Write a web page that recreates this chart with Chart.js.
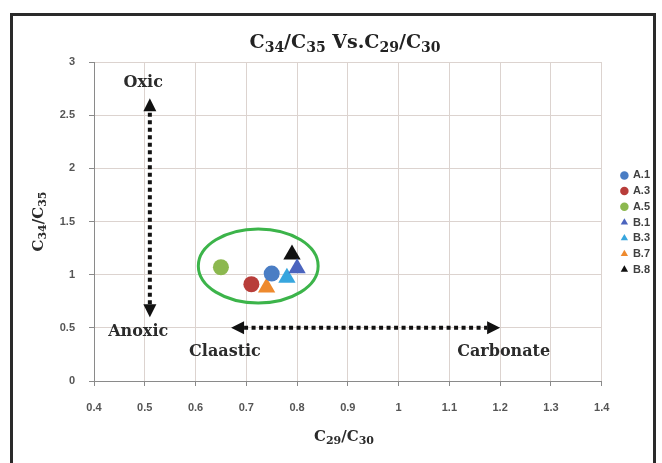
<!DOCTYPE html>
<html><head><meta charset="utf-8">
<script src="https://cdn.jsdelivr.net/npm/chart.js@4/dist/chart.umd.min.js"></script>
<style>html,body{margin:0;padding:0;background:#fff}canvas{display:block}</style>
</head><body>
<canvas id="c" width="662" height="463"></canvas>
<script>
// ---- data ----
const seriesNames = ['A.1', 'A.3', 'A.5', 'B.1', 'B.3', 'B.7', 'B.8'];
const xValues = [0.75, 0.71, 0.65, 0.80, 0.78, 0.74, 0.79];
const yValues = [1.01, 0.91, 1.07, 1.06, 0.97, 0.88, 1.19];
const xTicks = [0.4, 0.5, 0.6, 0.7, 0.8, 0.9, 1, 1.1, 1.2, 1.3, 1.4];
const yTicks = [0, 0.5, 1, 1.5, 2, 2.5, 3];
// annotation geometry (data units)
const oxicArrow = [[0.51, 0.60], [0.51, 2.66]];
const facesArrow = [[0.67, 0.5], [1.20, 0.5]];
const ellipseCenter = [0.7235, 1.082];
const ellipseRadii = [0.118, 0.348];
const annoLabels = [['Oxic', 0.497, 2.80], ['Anoxic', 0.487, 0.465], ['Claastic', 0.658, 0.275], ['Carbonate', 1.207, 0.275]];

// ---- styles ----
const colors = ['#4a7dc4', '#b83d3a', '#8cb84f', '#4b64be', '#38a6de', '#ee8a2e', '#111111'];
const shapes = ['circle', 'circle', 'circle', 'triangle', 'triangle', 'triangle', 'triangle'];
const SERIF = '"DejaVu Serif", serif';
const SANS = '"Liberation Sans", Arial, sans-serif';
const GRID = '#dcd3cf';
const AXIS = '#8a8a8a';

const datasets = seriesNames.map((n, i) => ({
  label: n,
  data: [{x: xValues[i], y: yValues[i]}],
  pointStyle: shapes[i],
  pointRadius: shapes[i] === 'circle' ? 8 : 10,
  pointHoverRadius: shapes[i] === 'circle' ? 8 : 10,
  backgroundColor: colors[i],
  borderColor: colors[i],
  borderWidth: 0
}));

function drawSub(ctx, parts, x, y, size, color, align) {
  const big = 'bold ' + size + 'px ' + SERIF;
  const small = 'bold ' + Math.round(size * 0.72) + 'px ' + SERIF;
  let w = 0;
  parts.forEach(p => { ctx.font = p[1] ? small : big; w += ctx.measureText(p[0]).width; });
  let cx = align === 'center' ? x - w / 2 : x;
  ctx.fillStyle = color;
  ctx.textBaseline = 'alphabetic';
  ctx.textAlign = 'left';
  parts.forEach(p => {
    ctx.font = p[1] ? small : big;
    ctx.fillText(p[0], cx, y + (p[1] ? size * 0.22 : 0));
    cx += ctx.measureText(p[0]).width;
  });
}

function arrowHead(ctx, tx, ty, dx, dy, len, half) {
  const nx = -dy, ny = dx;
  ctx.beginPath();
  ctx.moveTo(tx, ty);
  ctx.lineTo(tx - dx * len + nx * half, ty - dy * len + ny * half);
  ctx.lineTo(tx - dx * len - nx * half, ty - dy * len - ny * half);
  ctx.closePath();
  ctx.fill();
}

function dottedArrow(ctx, a, b) {
  const dx = b[0] - a[0], dy = b[1] - a[1];
  const L = Math.hypot(dx, dy); const ux = dx / L, uy = dy / L;
  const head = 13;
  ctx.save();
  ctx.strokeStyle = '#111'; ctx.fillStyle = '#111';
  ctx.lineWidth = 4; ctx.setLineDash([4, 3.5]);
  ctx.beginPath();
  ctx.moveTo(a[0] + ux * head, a[1] + uy * head);
  ctx.lineTo(b[0] - ux * head, b[1] - uy * head);
  ctx.stroke();
  ctx.setLineDash([]);
  arrowHead(ctx, b[0], b[1], ux, uy, head, 6.5);
  arrowHead(ctx, a[0], a[1], -ux, -uy, head, 6.5);
  ctx.restore();
}

// legend placement: extra gap left of the legend items, and shifted up to centre on the plot
const LEGEND_GAP = 15, LEGEND_EXTRA = 9, LEGEND_DY = -20;

const decor = {
  id: 'decor',
  afterInit(chart) {
    const L = chart.legend;
    if (!L) return;
    const fit = L.fit.bind(L);
    L.fit = function () { fit(); this.width += LEGEND_EXTRA; };
    const draw = L.draw.bind(L);
    L.draw = function () {
      const c = this.ctx; c.save(); c.translate(LEGEND_GAP, LEGEND_DY); draw(); c.restore();
    };
  },
  beforeDraw(chart) {
    const ctx = chart.ctx;
    ctx.save();
    ctx.fillStyle = '#fff';
    ctx.fillRect(0, 0, chart.width, chart.height);
    ctx.strokeStyle = '#2a2a2a';
    ctx.lineWidth = 3;
    ctx.strokeRect(11.5, 14.5, 643, 470);
    ctx.restore();
  },
  beforeDatasetsDraw(chart) {
    const ctx = chart.ctx, xs = chart.scales.x, ys = chart.scales.y;
    const cx = xs.getPixelForValue(ellipseCenter[0]), cy = ys.getPixelForValue(ellipseCenter[1]);
    const rx = Math.abs(xs.getPixelForValue(ellipseCenter[0] + ellipseRadii[0]) - cx);
    const ry = Math.abs(ys.getPixelForValue(ellipseCenter[1] + ellipseRadii[1]) - cy);
    ctx.save();
    ctx.strokeStyle = '#3cb44a'; ctx.lineWidth = 3;
    ctx.beginPath(); ctx.ellipse(cx, cy, rx, ry, 0, 0, Math.PI * 2); ctx.stroke();
    const P = p => [xs.getPixelForValue(p[0]), ys.getPixelForValue(p[1])];
    dottedArrow(ctx, P(oxicArrow[0]), P(oxicArrow[1]));
    dottedArrow(ctx, P(facesArrow[0]), P(facesArrow[1]));
    ctx.fillStyle = '#2b2b2b';
    ctx.font = 'bold 16px ' + SERIF;
    ctx.textAlign = 'center'; ctx.textBaseline = 'middle';
    annoLabels.forEach(l => ctx.fillText(l[0], xs.getPixelForValue(l[1]), ys.getPixelForValue(l[2])));
    ctx.restore();
  },
  afterDraw(chart) {
    const ctx = chart.ctx, a = chart.chartArea;
    ctx.save();
    drawSub(ctx, [['C', 0], ['34', 1], ['/C', 0], ['35', 1], [' Vs.C', 0], ['29', 1], ['/C', 0], ['30', 1]], 345, 48, 19, '#222', 'center');
    drawSub(ctx, [['C', 0], ['29', 1], ['/C', 0], ['30', 1]], 344, 441, 15, '#2b2b2b', 'center');
    ctx.translate(43, (a.top + a.bottom) / 2);
    ctx.rotate(-Math.PI / 2);
    drawSub(ctx, [['C', 0], ['34', 1], ['/C', 0], ['35', 1]], 0, 0, 15, '#2b2b2b', 'center');
    ctx.restore();
  }
};

new Chart(document.getElementById('c'), {
  type: 'scatter',
  data: {datasets},
  options: {
    responsive: false,
    animation: false,
    events: [],
    layout: {padding: {top: 62, left: 20, right: 8, bottom: 40}},
    plugins: {
      title: {display: false},
      tooltip: {enabled: false},
      legend: {
        display: true,
        position: 'right',
        align: 'center',
        labels: {
          usePointStyle: true,
          boxWidth: 6, boxHeight: 6,
          padding: 4.7,
          color: '#404040',
          font: {family: SANS, size: 11, weight: 'bold'}
        }
      }
    },
    scales: {
      x: {
        type: 'linear', min: 0.4, max: 1.4,
        afterBuildTicks: s => { s.ticks = xTicks.map(v => ({value: v})); },
        afterFit: s => { s.height = 42; },
        grid: {color: GRID, tickColor: AXIS, tickLength: 5, lineWidth: 1},
        border: {color: AXIS, width: 1},
        ticks: {color: '#555', font: {family: SANS, size: 11, weight: 'bold'}, padding: 15, maxRotation: 0,
          callback: v => String(+v.toFixed(1))}
      },
      y: {
        type: 'linear', min: 0, max: 3,
        afterBuildTicks: s => { s.ticks = yTicks.map(v => ({value: v})); },
        afterFit: s => { s.width = 74; },
        grid: {color: GRID, tickColor: AXIS, tickLength: 5, lineWidth: 1},
        border: {color: AXIS, width: 1},
        ticks: {color: '#555', font: {family: SANS, size: 11, weight: 'bold'}, padding: 14,
          callback: v => String(+v.toFixed(1))}
      }
    }
  },
  plugins: [decor]
});
</script>
</body></html>
